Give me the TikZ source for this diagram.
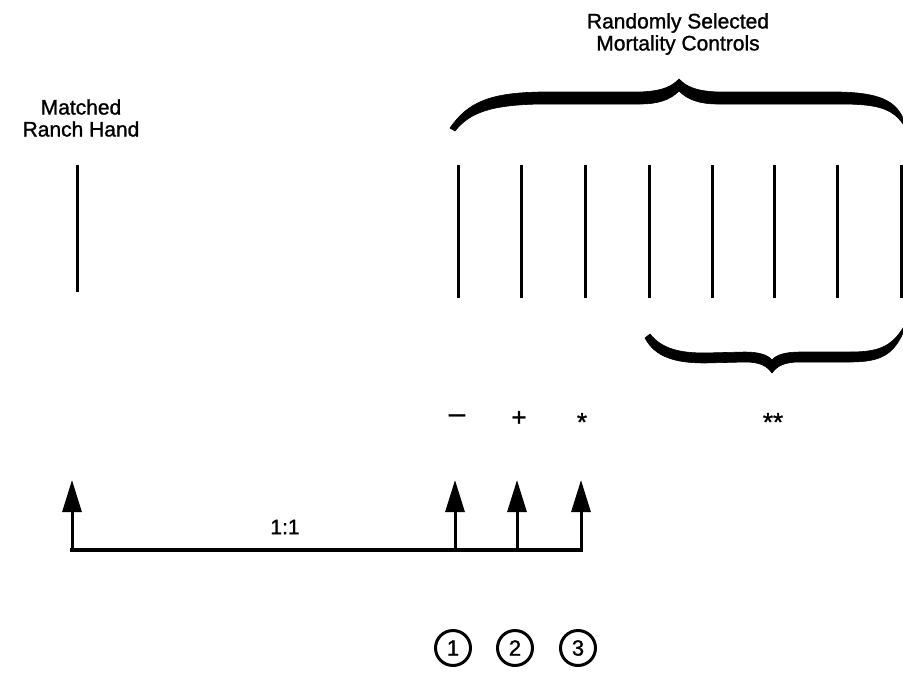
\documentclass[tikz,border=0pt]{standalone}
\usepackage{fontspec}
\setmainfont{Liberation Sans}
\newfontfamily\heavy[FakeBold=1.2]{Liberation Sans}
\usetikzlibrary{arrows.meta}
\begin{document}
\begin{tikzpicture}[x=1pt,y=-1pt,
  lbl/.style={font=\heavy\fontsize{21}{22}\selectfont, align=center, inner sep=0pt},
  stick/.style={line width=3pt},
  conn/.style={line width=3.2pt, line cap=rect},
  up/.style={line width=3pt, -{Triangle[length=32pt,width=19pt]}},
  num/.style={draw, circle, line width=3pt, minimum size=35pt, inner sep=0pt, font=\heavy\fontsize{22}{22}\selectfont},
  sym/.style={font=\heavy\fontsize{26}{26}\selectfont, inner sep=0pt, anchor=base},
  brace/.style={fill=black, draw=black, line width=0.6pt}]
\useasboundingbox (0,0) rectangle (903,675);

% titles
\node[lbl] (title) at (678,34) {Randomly Selected\\Mortality Controls};
\node[lbl] (rh) at (81,118) {Matched\\Ranch Hand};

% top brace
\path[brace] (450,128) .. controls (468,102) and (490,93) .. (540,92) -- (640,92)
  .. controls (664,91) and (672,86) .. (679,79)
  .. controls (686,86) and (694,91) .. (718,92) -- (840,92)
  .. controls (880,93) and (895,101) .. (903,118)
  -- (903,124) .. controls (892,108) and (876,104) .. (840,104) -- (718,104)
  .. controls (700,104) and (688,100) .. (679,91)
  .. controls (670,100) and (658,104) .. (640,104) -- (540,104)
  .. controls (492,105) and (470,112) .. (455,131) -- cycle;

% bottom brace
\path[brace] (645,338) .. controls (655,357) and (675,363) .. (705,363) -- (745,362)
  .. controls (760,362) and (767,366) .. (772,373)
  .. controls (777,366) and (784,362) .. (800,362) -- (850,362)
  .. controls (880,362) and (893,355) .. (903,333)
  -- (903,328) .. controls (891,347) and (878,352) .. (850,352) -- (800,352)
  .. controls (785,352) and (776,355) .. (772,360)
  .. controls (768,355) and (759,352) .. (745,352) -- (705,353)
  .. controls (680,353) and (662,349) .. (650,334) -- cycle;

% vertical lines
\coordinate (r0t) at (77,165); \coordinate (r0b) at (77,292);
\draw[stick] (r0t) -- (r0b);
\foreach \i/\x in {1/458,2/521,3/585,4/649,5/712,6/774,7/837,8/901}{
  \coordinate (m\i t) at (\x,165); \coordinate (m\i b) at (\x,298);
  \draw[stick] (m\i t) -- (m\i b);
}

% symbols
\node[sym] (s1) at (457,424) {\scalebox{1.3}[1]{−}};
\node[sym] (s2) at (519,426) {+};
\node[sym] (s3) at (582,431) {*};
\node[sym] (s4) at (773,431) {**};

% arrows and base line
\coordinate (a0) at (72,550); \coordinate (t0) at (72,480);
\coordinate (a1) at (455,550); \coordinate (t1) at (455,480);
\coordinate (a2) at (517,550); \coordinate (t2) at (517,480);
\coordinate (a3) at (581,550); \coordinate (t3) at (581,480);
\draw[conn] (a0) -- (a3);
\draw[up] (a0) -- (t0);
\draw[up] (a1) -- (t1);
\draw[up] (a2) -- (t2);
\draw[up] (a3) -- (t3);
\node[lbl] (ratio) at (285,527) {1:1};

% circled numbers
\node[num] (c1) at (453,648) {1};
\node[num] (c2) at (515,648) {2};
\node[num] (c3) at (578,648) {3};
\end{tikzpicture}
\end{document}
